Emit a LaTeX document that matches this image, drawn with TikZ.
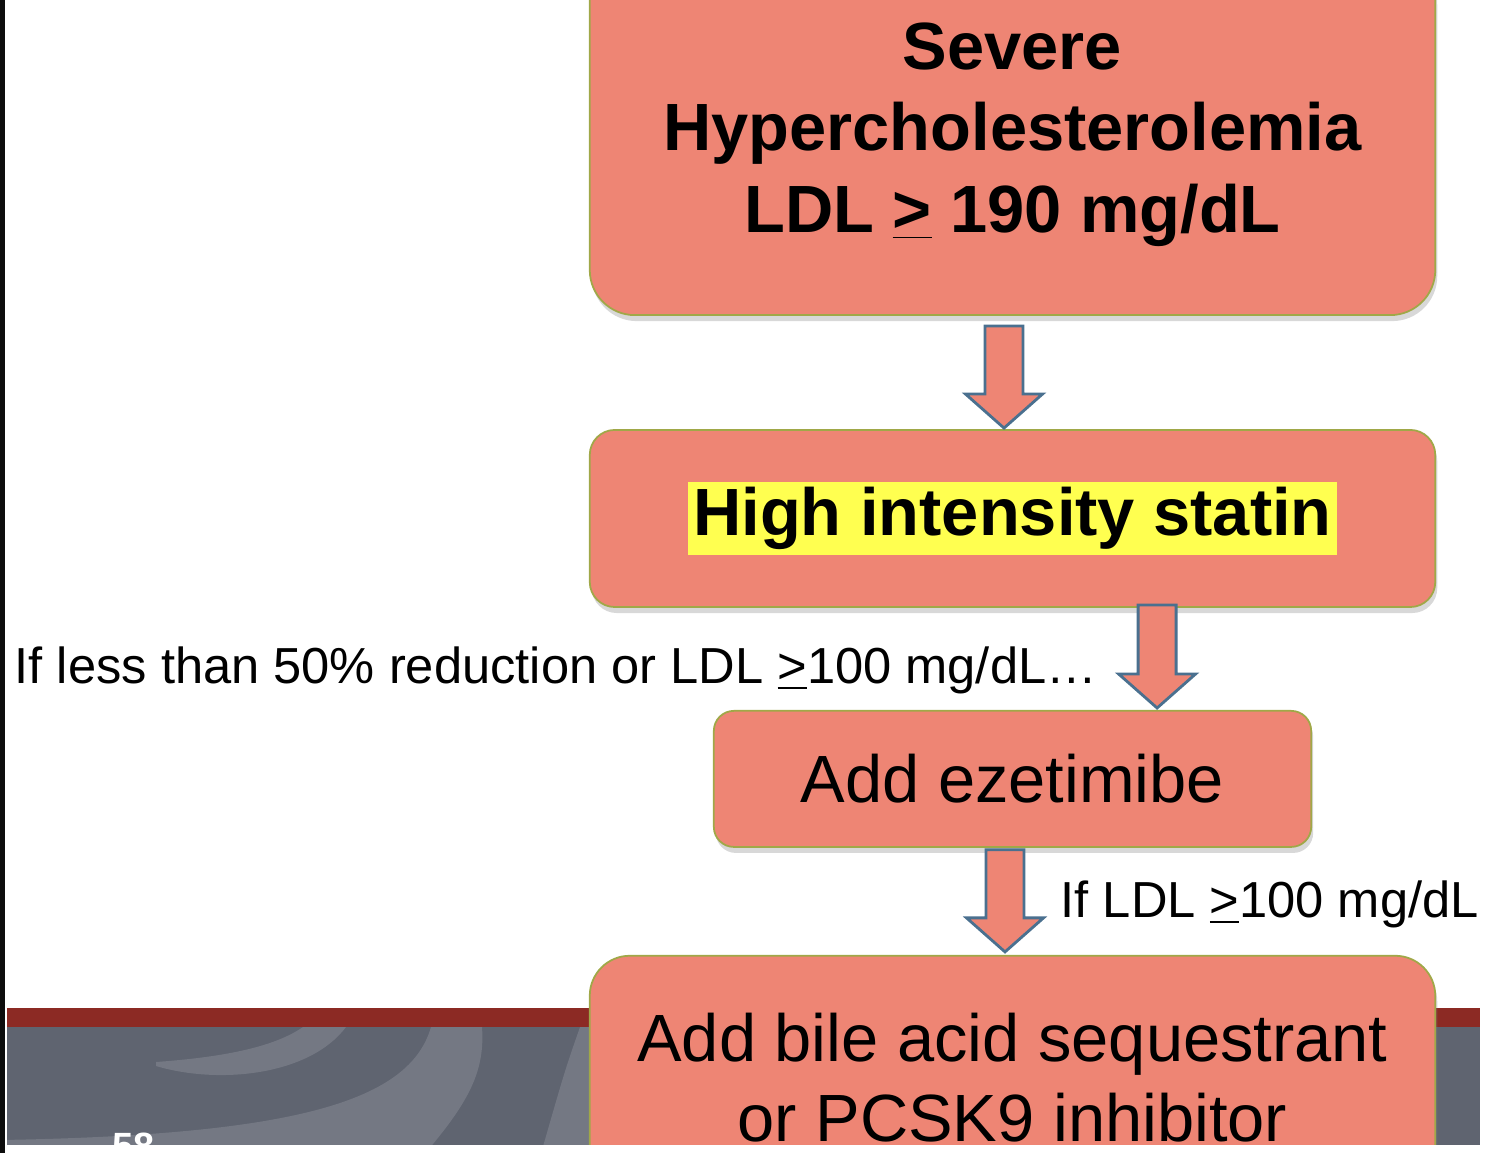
\documentclass[tikz,border=0pt]{standalone}
\usepackage{fontspec}
\setmainfont{Liberation Sans}
\usepackage{xcolor}
\usepackage{tikz}
\usetikzlibrary{positioning,calc,shadows}
\definecolor{salmon}{RGB}{238,133,116}
\definecolor{boxline}{RGB}{160,168,72}
\definecolor{arrowline}{RGB}{74,112,143}
\definecolor{bandred}{RGB}{140,42,36}
\definecolor{bandgray}{RGB}{95,100,112}
\definecolor{swirl}{RGB}{116,120,131}
\definecolor{hlyellow}{RGB}{255,255,80}

\begin{document}
\begin{tikzpicture}[x=0.01cm, y=-0.01cm]
  \tikzset{box/.style={rectangle, draw=boxline, line width=0.5pt, fill=salmon, align=center, inner sep=0pt,
      drop shadow={shadow xshift=0.02cm, shadow yshift=-0.06cm, opacity=0.3},
      font=\fontsize{19}{23.2}\selectfont},
    boldbox/.style={box, font=\fontsize{19}{23.2}\selectfont\bfseries},
    fat/.style={draw=arrowline, line width=0.8pt, fill=salmon,
      to path={let \p1=(\tikztostart), \p2=(\tikztotarget) in
        (\x1-0.19cm,\y1) -- (\x1+0.19cm,\y1) -- (\x1+0.19cm,\y2+0.34cm) -- (\x1+0.385cm,\y2+0.34cm)
        -- (\x1,\y2) -- (\x1-0.385cm,\y2+0.34cm) -- (\x1-0.19cm,\y2+0.34cm) -- cycle}},
    note/.style={font=\fontsize{14.4}{17}\selectfont, inner sep=0pt}}
  \useasboundingbox (0,0) rectangle (1486,1152);
  \fill[white] (0,0) rectangle (1486,1152);
  \fill[bandred] (7,1008) rectangle (1480,1027);
  \fill[bandgray] (7,1027) rectangle (1480,1145);
  \begin{scope}
    \clip (7,1027) rectangle (1480,1145);
    \fill[swirl] (156,1062) .. controls (210,1058) and (270,1050) .. (303,1027) -- (346,1027)
      .. controls (310,1075) and (220,1085) .. (156,1066) -- cycle;
    \fill[swirl] (431,1027) .. controls (410,1100) and (300,1135) .. (0,1140) -- (0,1150) -- (428,1150)
      .. controls (470,1100) and (485,1070) .. (482,1027) -- cycle;
    \fill[swirl] (580,1027) .. controls (565,1070) .. (542,1150) -- (600,1150) -- (600,1027) -- cycle;
  \end{scope}
  \node[text=white, font=\fontsize{10.8}{12}\selectfont\bfseries, anchor=base west, inner sep=0pt] (pgnum) at (112,1159) {58};
  \node[boldbox, minimum width=8.45cm, minimum height=3.61cm, rounded corners=0.45cm] (severe) at (1012.5,134.5)
    {Severe\\Hypercholesterolemia\\LDL \underline{>} 190 mg/dL};
  \node[boldbox, minimum width=8.45cm, minimum height=1.77cm, rounded corners=0.25cm, below=1.13cm of severe] (statin)
    {\setlength{\fboxsep}{1.4pt}\colorbox{hlyellow}{High intensity statin}};
  \node[box, minimum width=5.97cm, minimum height=1.36cm, rounded corners=0.2cm, below=1.02cm of statin] (ezet)
    {Add ezetimibe};
  \node[box, minimum width=8.45cm, minimum height=2.43cm, rounded corners=0.4cm, below=1.07cm of ezet,
    font=\fontsize{19}{22.8}\selectfont] (bile)
    {Add bile acid sequestrant\\or PCSK9 inhibitor};
  \draw[fat] ([xshift=-0.085cm,yshift=-0.1cm]severe.south) to ([xshift=-0.085cm,yshift=0.01cm]statin.north);
  \draw[fat] ([xshift=1.445cm,yshift=0.03cm]statin.south) to ([xshift=1.445cm,yshift=0.02cm]ezet.north);
  \draw[fat] ([xshift=-0.075cm,yshift=-0.02cm]ezet.south) to ([xshift=-0.075cm,yshift=0.03cm]bile.north);
  \node[note, anchor=base west] (cond1) at (14,683) {If less than 50\% reduction or LDL \underline{>}100 mg/dL\ldots};
  \node[note, anchor=base west] (cond2) at (1060,917) {If LDL \underline{>}100 mg/dL};
  \fill[white] (5,1145) rectangle (1490,1170);
  \fill[black!95] (-5,-5) rectangle (5,1170);
\end{tikzpicture}
\end{document}
